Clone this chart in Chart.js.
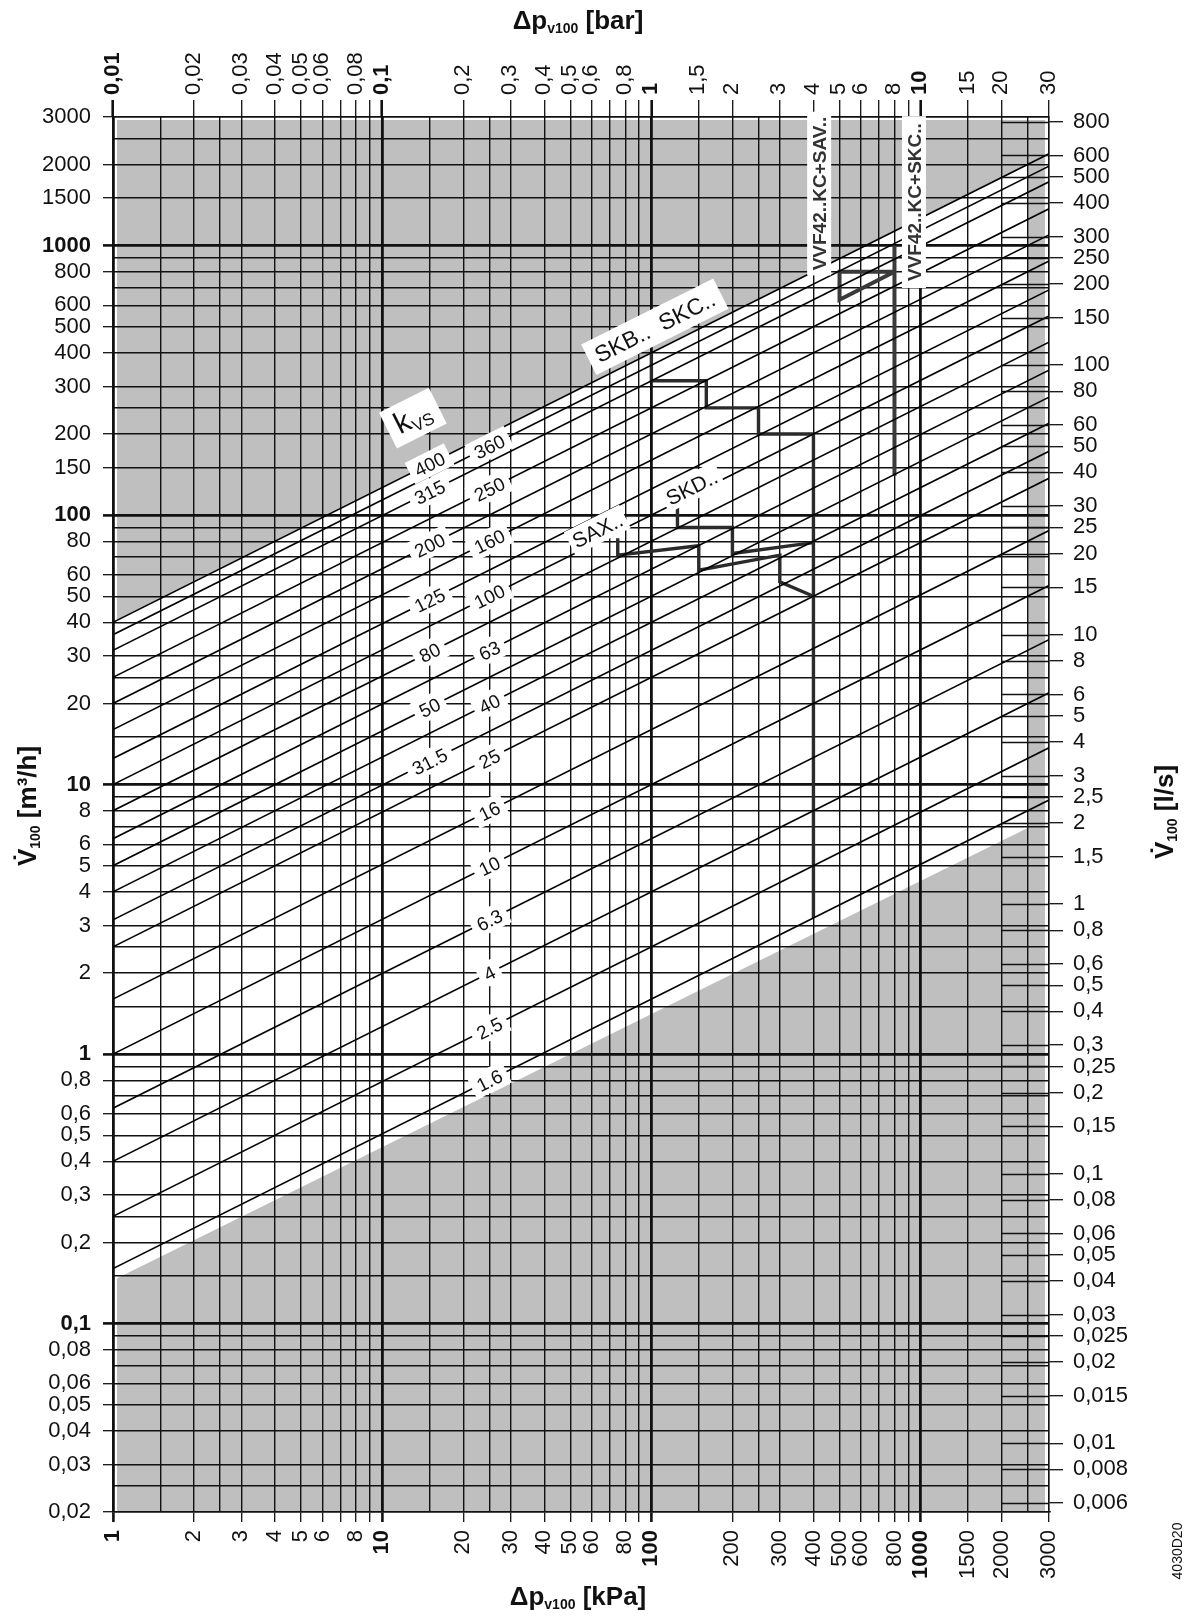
<!DOCTYPE html>
<html>
<head>
<meta charset="utf-8">
<script src="https://cdn.jsdelivr.net/npm/chart.js@4.4.1/dist/chart.umd.min.js"></script>
<style>
  html, body { margin: 0; padding: 0; background: #fff; }
  #wrap { width: 1191px; height: 1622px; position: relative; }
</style>
</head>
<body>
<div id="wrap"><canvas id="grafica"></canvas></div>
<script>
// kvs lines (m3/h at 1 bar) and where their labels sit
const kvsValues = [400, 360, 315, 250, 200, 160, 125, 100, 80, 63, 50, 40, 31.5, 25, 16, 10, 6.3, 4, 2.5, 1.6];
const kvsLeftColumn = [400, 315, 200, 125, 80, 50, 31.5];
const kvsRightColumn = [360, 250, 160, 100, 63, 40, 25, 16, 10, 6.3, 4, 2.5, 1.6];

// limit curves, [kPa, m3/h]
const skbSkc = [[100, 400], [100, 315], [160, 315], [160, 250], [250, 250], [250, 200], [400, 200], [400, 3.2]];
const skd = [[125, 110], [125, 90], [200, 90], [200, 72], [400, 79]];
const sax = [[75, 82], [75, 71], [150, 77], [150, 62.5], [300, 71], [300, 56.5], [400, 50]];
const vvfSav = [[800, 800], [500, 800], [500, 630], [800, 800]];
const vvfSkc = [[800, 1000], [800, 140]];

// corners of the white (usable) field, [kPa, m3/h]
const usableArea = [[1, 40], [2500, 2000], [2500, 6.9], [1, 0.145]];

// axis labels
const kpaLabels = [1, 2, 3, 4, 5, 6, 8, 10, 20, 30, 40, 50, 60, 80, 100, 200, 300, 400, 500, 600, 800, 1000, 1500, 2000, 3000];
const barLabels = [0.01, 0.02, 0.03, 0.04, 0.05, 0.06, 0.08, 0.1, 0.2, 0.3, 0.4, 0.5, 0.6, 0.8, 1, 1.5, 2, 3, 4, 5, 6, 8, 10, 15, 20, 30];
const m3hLabels = [3000, 2000, 1500, 1000, 800, 600, 500, 400, 300, 200, 150, 100, 80, 60, 50, 40, 30, 20, 10, 8, 6, 5, 4, 3, 2, 1,
  0.8, 0.6, 0.5, 0.4, 0.3, 0.2, 0.1, 0.08, 0.06, 0.05, 0.04, 0.03, 0.02];
const lsLabels = [800, 600, 500, 400, 300, 250, 200, 150, 100, 80, 60, 50, 40, 30, 25, 20, 15, 10, 8, 6, 5, 4, 3, 2.5, 2, 1.5, 1,
  0.8, 0.6, 0.5, 0.4, 0.3, 0.25, 0.2, 0.15, 0.1, 0.08, 0.06, 0.05, 0.04, 0.03, 0.025, 0.02, 0.015, 0.01, 0.008, 0.006];
const gridSteps = [1, 1.5, 2, 2.5, 3, 4, 5, 6, 7, 8, 9];

const FONT = '"Liberation Sans", Arial, sans-serif';
const INK = '#111';

const flowAt = (kvs, kpa) => kvs * Math.sqrt(kpa / 100);
const norm = v => parseFloat(v.toPrecision(6));
const isDecade = v => Math.abs(Math.log10(v) - Math.round(Math.log10(v))) < 1e-6;
const isWhole = v => { const m = v / Math.pow(10, Math.floor(Math.log10(v) + 1e-9)); return Math.abs(m - Math.round(m)) < 1e-6; };
const fmt = v => String(v).replace('.', ',');

function gridValues(min, max) {
  const out = [];
  for (let e = Math.floor(Math.log10(min)) - 1; e <= Math.ceil(Math.log10(max)); e++) {
    gridSteps.forEach(s => {
      const v = norm(s * Math.pow(10, e));
      if (v >= min * 0.999 && v <= max * 1.001) out.push(v);
    });
  }
  return out;
}

const pts = arr => arr.map(([p, v]) => ({ x: p, y: v }));

const datasets = [];
kvsValues.forEach(k => {
  datasets.push({
    data: [{ x: 1, y: flowAt(k, 1) }, { x: 3000, y: flowAt(k, 3000) }],
    borderColor: '#000', borderWidth: 1.6
  });
});
[skbSkc, skd, sax].forEach(c => datasets.push({ data: pts(c), borderColor: '#2b2b2b', borderWidth: 3.4 }));
[vvfSav, vvfSkc].forEach(c => datasets.push({ data: pts(c), borderColor: '#3a3a3a', borderWidth: 4 }));
datasets.forEach(d => { d.showLine = true; d.pointRadius = 0; d.fill = false; });

function drawRuns(ctx, runs, cx, cy, angle, base, box) {
  ctx.save();
  ctx.translate(cx, cy);
  ctx.rotate(angle);
  let total = 0;
  runs.forEach(r => { ctx.font = r.font; r.w = ctx.measureText(r.text).width; total += r.w; });
  if (box) {
    ctx.fillStyle = '#fff';
    ctx.fillRect(-total / 2 - box.padX, -box.h / 2, total + 2 * box.padX, box.h);
  }
  ctx.fillStyle = box && box.ink ? box.ink : INK;
  ctx.textAlign = 'left';
  ctx.textBaseline = 'alphabetic';
  let xx = -total / 2;
  runs.forEach(r => { ctx.font = r.font; ctx.fillText(r.text, xx, base + (r.dy || 0)); xx += r.w; });
  ctx.restore();
}

const backdrop = {
  id: 'backdrop',
  beforeDraw(chart) {
    const { ctx, chartArea: a, scales: { x, y } } = chart;
    ctx.save();
    ctx.fillStyle = '#fff';
    ctx.fillRect(0, 0, chart.width, chart.height);
    ctx.fillStyle = '#bfbfbf';
    ctx.fillRect(a.left + 4, a.top + 3, a.right - a.left - 8, a.bottom - a.top - 3);
    ctx.fillStyle = '#fff';
    ctx.beginPath();
    usableArea.forEach(([p, v], i) => {
      const px = x.getPixelForValue(p), py = y.getPixelForValue(v);
      if (i) ctx.lineTo(px, py); else ctx.moveTo(px, py);
    });
    ctx.closePath();
    ctx.fill();
    ctx.restore();
  }
};

const annotations = {
  id: 'annotations',
  afterDatasetsDraw(chart) {
    const { ctx, chartArea: a, scales: { x, y, y2 } } = chart;
    // l/s ticks reaching into the plot from 2000 kPa
    ctx.save();
    ctx.strokeStyle = INK;
    ctx.lineWidth = 1.3;
    const x0 = x.getPixelForValue(2000);
    lsLabels.forEach(v => {
      const py = Math.round(y2.getPixelForValue(v)) + 0.5;
      ctx.beginPath(); ctx.moveTo(x0, py); ctx.lineTo(a.right, py); ctx.stroke();
    });
    ctx.restore();

    const ang = Math.atan2(y.getPixelForValue(flowAt(1, 1000)) - y.getPixelForValue(flowAt(1, 1)),
      x.getPixelForValue(1000) - x.getPixelForValue(1));
    const kvsFont = '19px ' + FONT;
    const place = (list, kpa) => list.forEach(k => {
      drawRuns(ctx, [{ text: String(k), font: kvsFont }], x.getPixelForValue(kpa), y.getPixelForValue(flowAt(k, kpa)),
        ang, 7, { padX: 6, h: 24 });
    });
    place(kvsLeftColumn, 15);
    place(kvsRightColumn, 25);

    drawRuns(ctx, [{ text: 'k', font: '30px ' + FONT }, { text: 'VS', font: '17px ' + FONT, dy: 5 }],
      x.getPixelForValue(13), y.getPixelForValue(229), ang, 9, { padX: 9, h: 40 });

    drawRuns(ctx, [{ text: 'SKB..  SKC..', font: '23px ' + FONT }],
      x.getPixelForValue(103), y.getPixelForValue(500), ang, 8, { padX: 8, h: 34 });
    drawRuns(ctx, [{ text: 'SKD..', font: '21px ' + FONT }],
      x.getPixelForValue(141), y.getPixelForValue(127), ang, 7.5, { padX: 4, h: 26 });
    drawRuns(ctx, [{ text: 'SAX..', font: '21px ' + FONT }],
      x.getPixelForValue(63), y.getPixelForValue(88), ang, 7.5, { padX: 4, h: 26 });
    drawRuns(ctx, [{ text: 'VVF42..KC+SAV..', font: 'bold 19px ' + FONT }],
      x.getPixelForValue(420), y.getPixelForValue(1560), -Math.PI / 2, 7, { padX: 5, h: 24, ink: '#333' });
    drawRuns(ctx, [{ text: 'VVF42..KC+SKC..', font: 'bold 19px ' + FONT }],
      x.getPixelForValue(945), y.getPixelForValue(1450), -Math.PI / 2, 7, { padX: 7, h: 24, ink: '#333' });
  },
  afterDraw(chart) {
    const { ctx } = chart;
    const big = 'bold 26px ' + FONT, sub = 'bold 14px ' + FONT;
    drawRuns(ctx, [{ text: 'Δp', font: big }, { text: 'v100', font: sub, dy: 4 }, { text: ' [bar]', font: big }], 578, 29, 0, 0);
    drawRuns(ctx, [{ text: 'Δp', font: big }, { text: 'v100', font: sub, dy: 4 }, { text: ' [kPa]', font: big }], 578, 1605, 0, 0);
    drawRuns(ctx, [{ text: 'V\u0307', font: big }, { text: '100', font: sub, dy: 4 }, { text: ' [m³/h]', font: big }], 36, 806, -Math.PI / 2, 0);
    drawRuns(ctx, [{ text: 'V\u0307', font: big }, { text: '100', font: sub, dy: 4 }, { text: ' [l/s]', font: big }], 1173, 812, -Math.PI / 2, 0);
    drawRuns(ctx, [{ text: '4030D20', font: '14px ' + FONT }], 1182, 1551, -Math.PI / 2, 0);
  }
};

function axis(opts) {
  const labels = new Set(opts.labels.map(norm));
  return {
    type: 'logarithmic',
    position: opts.position,
    min: opts.min,
    max: opts.max,
    afterBuildTicks: s => { s.ticks = opts.values.map(v => ({ value: v })); },
    afterFit: s => { if (opts.width) s.width = opts.width; if (opts.height) s.height = opts.height; },
    ticks: {
      autoSkip: false,
      color: INK,
      padding: opts.padding,
      labelOffset: opts.labelOffset || 0,
      minRotation: opts.rot || 0,
      maxRotation: opts.rot || 0,
      font: c => ({ family: FONT, size: 22, weight: (opts.bold && c.tick && isDecade(c.tick.value)) ? 'bold' : 'normal' }),
      callback: v => labels.has(norm(v)) ? fmt(norm(v)) : ''
    },
    grid: {
      drawOnChartArea: opts.inside,
      tickLength: opts.tickLength,
      color: '#111',
      lineWidth: c => (c.tick && isDecade(c.tick.value) && opts.inside) ? 2.8 : 1.4,
      tickWidth: c => (c.tick && isDecade(c.tick.value) && opts.bold) ? 2.6 : 1.3,
      tickColor: c => (c.tick && (labels.has(norm(c.tick.value)) || (opts.wholeTicks && isWhole(c.tick.value)))) ? INK : 'rgba(0,0,0,0)'
    },
    border: { display: true, color: INK, width: opts.borderWidth || 1.4 }
  };
}

const chart = new Chart(document.getElementById('grafica').getContext('2d'), {
  type: 'scatter',
  data: { datasets },
  options: {
    responsive: true,
    maintainAspectRatio: false,
    animation: false,
    events: [],
    layout: { padding: 0 },
    plugins: { legend: { display: false }, tooltip: { enabled: false } },
    scales: {
      x: axis({ position: 'bottom', min: 1, max: 3000, values: gridValues(1, 3000), labels: kpaLabels,
        inside: true, bold: true, wholeTicks: true, tickLength: 10, padding: 8, rot: 90, height: 110 }),
      x2: axis({ position: 'top', min: 0.01, max: 30, values: gridValues(0.01, 30), labels: barLabels,
        inside: false, bold: true, wholeTicks: true, tickLength: 17, padding: 5, rot: 90, height: 117, labelOffset: 26 }),
      y: axis({ position: 'left', min: 0.02, max: 3000, values: gridValues(0.02, 3000), labels: m3hLabels,
        inside: true, bold: true, wholeTicks: false, tickLength: 10, padding: 12, width: 113 }),
      y2: axis({ position: 'right', min: 0.02 / 3.6, max: 3000 / 3.6, values: lsLabels.slice().reverse(), labels: lsLabels,
        inside: false, bold: false, wholeTicks: false, tickLength: 14, padding: 10, width: 142 })
    }
  },
  plugins: [backdrop, annotations]
});
</script>
</body>
</html>
